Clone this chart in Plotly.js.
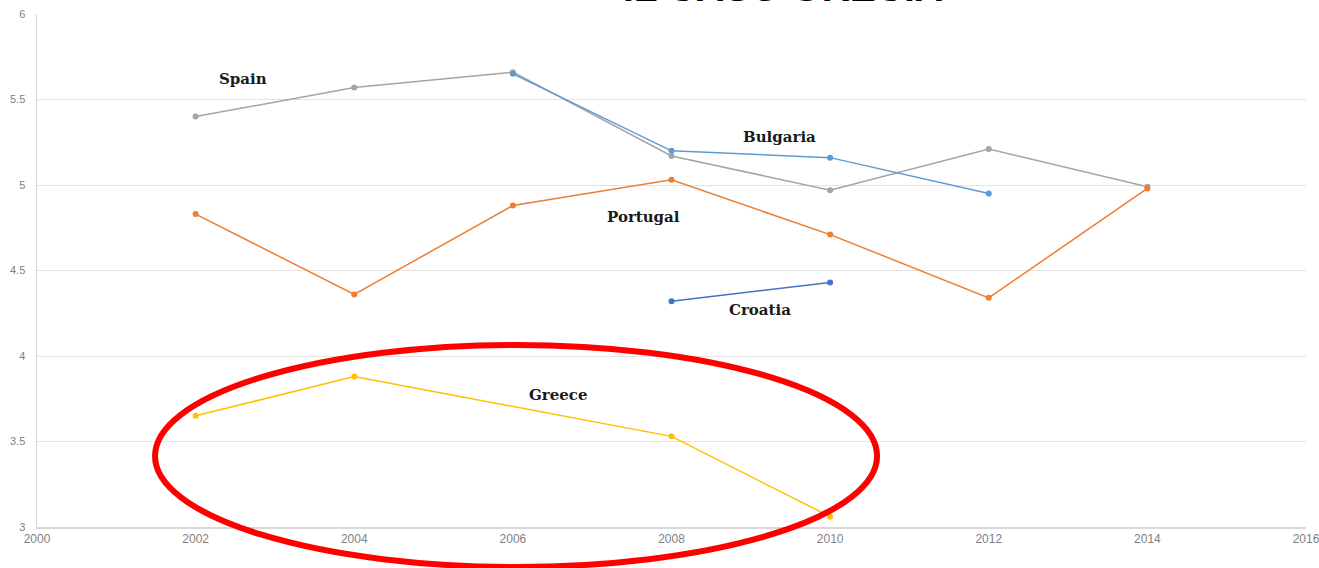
<!DOCTYPE html>
<html>
<head>
<meta charset="utf-8">
<script src="https://cdn.plot.ly/plotly-3.0.1.min.js"></script>
<style>html,body{margin:0;padding:0;background:#fff;}#chart{width:1319px;height:568px;}</style>
</head>
<body>
<div id="chart"></div>
<script>
const years = [2002, 2004, 2006, 2008, 2010, 2012, 2014];
const spain = [5.40, 5.57, 5.66, 5.17, 4.97, 5.21, 4.99];
const bulgaria = [null, null, 5.65, 5.20, 5.16, 4.95, null];
const portugal = [4.83, 4.36, 4.88, 5.03, 4.71, 4.34, 4.98];
const croatia = [null, null, null, 4.32, 4.43, null, null];
const greece = [3.65, 3.88, null, 3.53, 3.06, null, null];
const xTicks = [2000, 2002, 2004, 2006, 2008, 2010, 2012, 2014, 2016];
const yTicks = [3, 3.5, 4, 4.5, 5, 5.5, 6];
const seriesLabels = [
  {text: 'Spain', x: 2002.6, y: 5.62},
  {text: 'Bulgaria', x: 2009.36, y: 5.28},
  {text: 'Portugal', x: 2007.65, y: 4.81},
  {text: 'Croatia', x: 2009.12, y: 4.27},
  {text: 'Greece', x: 2006.57, y: 3.77}
];

function tr(name, y, color, connect) {
  return {
    type: 'scatter', mode: 'lines+markers', name: name,
    x: years, y: y, connectgaps: !!connect,
    line: {color: color, width: 1.5},
    marker: {color: color, size: 6}
  };
}
const data = [
  tr('Spain', spain, '#A5A5A5'),
  tr('Bulgaria', bulgaria, '#5B9BD5'),
  tr('Portugal', portugal, '#ED7D31'),
  tr('Croatia', croatia, '#4472C4'),
  tr('Greece', greece, '#FFC000', true)
];

const annotations = seriesLabels.map(l => ({
  text: '<b>' + l.text + '</b>', x: l.x, y: l.y, xref: 'x', yref: 'y',
  showarrow: false, font: {family: 'DejaVu Serif, serif', size: 15, color: '#1a1a1a'}
}));
annotations.push({
  text: '<b>IL CASO GRECIA</b>', xref: 'paper', yref: 'paper',
  x: 0.588, y: 1.0, yanchor: 'bottom', xanchor: 'center', yshift: 3,
  showarrow: false, font: {family: 'Liberation Sans, Arial, sans-serif', size: 39, color: '#000'}
});

const layout = {
  width: 1319, height: 568,
  margin: {l: 37, r: 13, t: 14, b: 41},
  paper_bgcolor: '#fff', plot_bgcolor: '#fff',
  showlegend: false,
  xaxis: {
    range: [2000, 2016], tickvals: xTicks, ticktext: xTicks.map(String),
    showgrid: false, zeroline: false, showline: true, linecolor: '#d9d9d9', linewidth: 1.5,
    ticks: '', ticklabeloverflow: 'allow',
    tickfont: {family: 'Liberation Sans, Arial, sans-serif', size: 12, color: '#7f7f7f'}
  },
  yaxis: {
    range: [3, 6], tickvals: yTicks, ticktext: yTicks.map(String),
    showgrid: true, gridcolor: '#e3e3e3', zeroline: false, showline: true, linecolor: '#d9d9d9', linewidth: 1.5,
    ticks: '', ticklabelstandoff: 8,
    tickfont: {family: 'Liberation Sans, Arial, sans-serif', size: 11, color: '#7f7f7f'}
  },
  annotations: annotations,
  shapes: [{
    type: 'circle', xref: 'paper', yref: 'paper',
    x0: 0.093, x1: 0.662, y0: -0.078, y1: 0.355,
    line: {color: '#FF0000', width: 6}
  }]
};
Plotly.newPlot('chart', data, layout, {displayModeBar: false, staticPlot: true});
</script>
</body>
</html>
